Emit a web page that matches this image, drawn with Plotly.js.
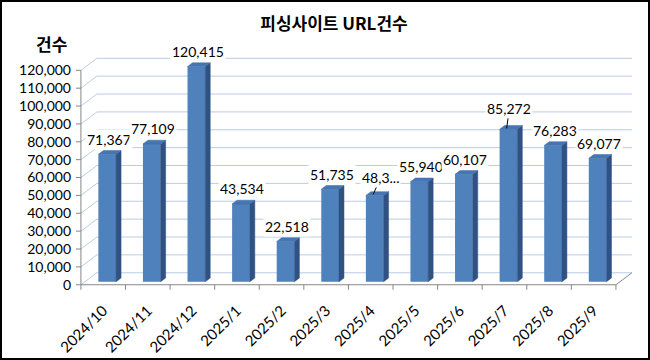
<!DOCTYPE html>
<html><head><meta charset="utf-8">
<script src="https://cdn.plot.ly/plotly-3.0.1.min.js"></script>
<style>
html,body{margin:0;padding:0;background:#fff}
#wrap{position:relative;width:650px;height:360px}
#chart{width:650px;height:360px}
#frame{position:absolute;left:0;top:0;width:650px;height:360px;box-sizing:border-box;border:2px solid #000;pointer-events:none}
</style>
</head><body><div id="wrap"><div id="chart"></div><div id="frame"></div></div>
<script>
// ---- data ----
const months = ['2024/10','2024/11','2024/12','2025/1','2025/2','2025/3','2025/4','2025/5','2025/6','2025/7','2025/8','2025/9'];
const counts = [71367,77109,120415,43534,22518,51735,48300,55940,60107,85272,76283,69077];
const countLabels = ['71,367','77,109','120,415','43,534','22,518','51,735','48,3...','55,940','60,107','85,272','76,283','69,077'];
const yTicks = [0,10000,20000,30000,40000,50000,60000,70000,80000,90000,100000,110000,120000];
const yTickText = ['0','10,000','20,000','30,000','40,000','50,000','60,000','70,000','80,000','90,000','100,000','110,000','120,000'];
const chartTitle = '피싱사이트 URL건수';
const yTitle = '건수';

// ---- geometry / style ----
const W = 650, H = 360;
const M = {l:72, r:14, t:56, b:69};
const XR = [-0.7, 11.95], YR = [-3500, 128000];
const plotW = W - M.l - M.r, plotH = H - M.t - M.b;
const PXU = plotW / (XR[1]-XR[0]);      // px per x unit
const PYU = plotH / (YR[1]-YR[0]);      // px per y unit
const DX = 16 / PXU, DY = 12 / PYU;     // 3D depth offset of walls
const BW = 0.397;                        // bar width (units)
const F0 = 0.25, FD = 0.3125;           // bar front depth, bar depth (fractions)
const base = F0 * DY, shiftX = F0 * DX;
const sdx = FD * DX, sdy = FD * DY;
const xLeft = -0.5, xRight = months.length - 0.5;
const GRID = '#b9cde5', AXIS = '#868686';
const FRONT = '#4f81bd', SIDE = '#2f5283', TOP = '#4677b3';

const idx = months.map((_, i) => i);
const xc = idx.map(i => i + shiftX);

// side faces and top faces as polygons built from the data
const sideX = [], sideY = [], topX = [], topY = [];
counts.forEach((v, i) => {
  const xl = xc[i] - BW/2, xr = xc[i] + BW/2, t = base + v;
  sideX.push(xr, xr + sdx, xr + sdx, xr, xr, null);
  sideY.push(base, base + sdy, t + sdy, t, base, null);
  topX.push(xl, xr, xr + sdx, xl + sdx, xl, null);
  topY.push(t, t, t + sdy, t + sdy, t, null);
});

const traces = [
  {type:'bar', x:xc, y:counts, base:base, width:BW, marker:{color:FRONT, line:{width:0}}, hoverinfo:'skip'},
  {type:'scatter', mode:'lines', x:sideX, y:sideY, fill:'toself', fillcolor:SIDE, line:{width:0.5, color:SIDE}, hoverinfo:'skip'},
  {type:'scatter', mode:'lines', x:topX, y:topY, fill:'toself', fillcolor:TOP, line:{width:0.5, color:'#3d6aa3'}, hoverinfo:'skip'}
];

// walls: gridlines, axes, ticks
const shapes = [];
const ln = (x0,y0,x1,y1,color,layer) => shapes.push({type:'line', xref:'x', yref:'y', x0, y0, x1, y1, layer:layer||'below', line:{color, width:1}});
yTicks.forEach(v => {
  ln(xLeft, v, xLeft + DX, v + DY, GRID);
  ln(xLeft + DX, v + DY, xRight + DX, v + DY, GRID);
});
ln(xLeft, 0, xRight, 0, AXIS);
ln(xRight, 0, xRight + DX, DY, AXIS);
ln(xLeft, 0, xLeft, yTicks[yTicks.length-1], AXIS);
yTicks.forEach(v => ln(xLeft - 5/PXU, v, xLeft, v, AXIS));
for (let k = 0; k <= months.length; k++) ln(xLeft + k, 0, xLeft + k, -5/PYU, AXIS);

// data labels
const annotations = counts.map((v, i) => ({
  x:xc[i], y:base + v, xref:'x', yref:'y', text:countLabels[i], showarrow:false,
  xshift:1.5, yshift:15, bgcolor:'#ffffff', borderpad:1,
  font:{family:'Lato', size:14, color:'#000'}
}));
// moved labels with leader lines
[[6, 8, -18], [9, 3, -21]].forEach(([i, ax, ay]) => {
  Object.assign(annotations[i], {showarrow:true, arrowhead:0, arrowwidth:1, arrowcolor:'#000',
    ax:ax, ay:ay, xshift:-2, yshift:0, standoff:1});
});
const toPX = px => (px - M.l) / plotW, toPY = py => (H - M.b - py) / plotH;
annotations.push({xref:'paper', yref:'paper', x:toPX(51), y:toPY(44), text:yTitle, showarrow:false,
  xanchor:'center', yanchor:'middle', font:{family:'Noto Sans CJK KR', size:17, color:'#000', weight:'bold'}});

const tickFont = {family:'Lato', size:14, color:'#000'};
const layout = {
  width:W, height:H, margin:M, paper_bgcolor:'#fff', plot_bgcolor:'rgba(0,0,0,0)',
  showlegend:false,
  title:{text:chartTitle, xref:'container', yref:'container', x:334/W, y:1 - 24/H, xanchor:'center', yanchor:'middle',
    font:{family:'Noto Sans CJK KR', size:17, color:'#000', weight:'bold'}},
  xaxis:{range:XR, tickmode:'array', tickvals:idx, ticktext:months, tickangle:-45, showgrid:false, zeroline:false,
    showline:false, ticks:'outside', ticklen:4, tickcolor:'rgba(0,0,0,0)', tickfont:{family:'Lato', size:15, color:'#000'}, fixedrange:true},
  yaxis:{range:YR, tickmode:'array', tickvals:yTicks, ticktext:yTickText, showgrid:false, zeroline:false,
    showline:false, ticks:'', tickfont:tickFont, fixedrange:true},
  shapes, annotations
};
Plotly.newPlot('chart', traces, layout, {displayModeBar:false, staticPlot:true});
</script>
</body></html>
